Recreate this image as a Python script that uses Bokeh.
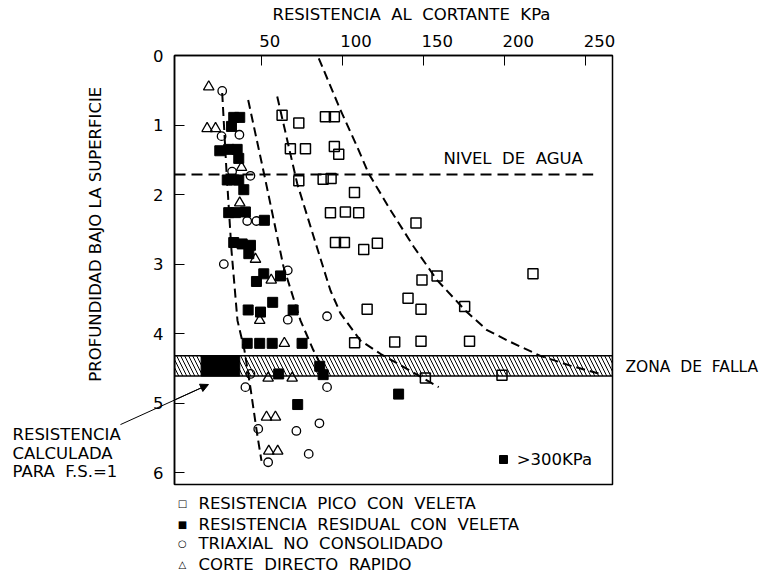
import math
from bokeh.plotting import figure
from bokeh.models import (Range1d, FixedTicker, Legend, LegendItem,
                          Arrow, NormalHead)
from bokeh.core.properties import value
from bokeh.embed import file_html
from bokeh.resources import INLINE

# ---------------- data ----------------
# RESISTENCIA PICO CON VELETA (open squares)
pico_x = [62.9, 73.2, 89.6, 95.1, 68.0, 77.3, 95.1, 97.8, 73.2, 88.2, 93.1,
          107.5, 92.7, 101.9, 110.1, 145.4, 95.8, 101.3, 113.2, 121.6, 149.1,
          158.4, 217.5, 115.3, 140.5, 148.5, 175.4, 107.6, 132.3, 148.5, 178.4,
          151.2, 198.4]
pico_y = [0.86, 0.97, 0.88, 0.88, 1.34, 1.34, 1.31, 1.42, 1.80, 1.78, 1.77,
          1.97, 2.26, 2.25, 2.26, 2.41, 2.69, 2.69, 2.79, 2.70, 3.23,
          3.17, 3.14, 3.65, 3.49, 3.65, 3.61, 4.13, 4.12, 4.11, 4.11,
          4.64, 4.60]

# RESISTENCIA RESIDUAL CON VELETA (filled squares)
res_x = [33.1, 36.8, 31.7, 24.5, 30.0, 35.2, 36.2, 29.1, 33.1, 36.2, 39.3,
         30.0, 34.2, 40.3, 52.0, 33.1, 38.3, 43.4, 42.4, 51.6, 61.9, 47.1,
         57.1, 42.0, 49.6, 69.7, 41.4, 49.1, 56.8, 75.2, 86.1, 88.2, 60.8,
         134.7, 72.5]
res_y = [0.89, 0.89, 1.02, 1.37, 1.35, 1.35, 1.48, 1.79, 1.79, 1.79, 1.93,
         2.26, 2.26, 2.25, 2.37, 2.69, 2.71, 2.73, 2.85, 3.14, 3.17, 3.25,
         3.55, 3.66, 3.69, 3.66, 4.14, 4.14, 4.14, 4.14, 4.47, 4.59, 4.58,
         4.87, 5.02]

# TRIAXIAL NO CONSOLIDADO (open circles)
triax_x = [26.0, 25.6, 36.6, 32.1, 43.4, 41.4, 47.1, 27.0, 66.4, 66.4, 90.6,
           43.4, 40.3, 90.6, 85.9, 71.7, 48.2, 79.3, 54.3]
triax_y = [0.51, 1.16, 1.14, 1.67, 1.73, 2.38, 2.38, 3.00, 3.09, 3.80, 3.75,
           4.58, 4.77, 4.77, 5.29, 5.40, 5.37, 5.73, 5.85]

# CORTE DIRECTO RAPIDO (open triangles)
corte_x = [17.7, 16.7, 21.9, 37.9, 36.8, 46.5, 56.2, 49.1, 64.3, 54.3, 69.1,
           53.3, 58.8, 54.7, 60.2]
corte_y = [0.45, 1.05, 1.05, 1.61, 2.12, 2.93, 3.23, 3.81, 4.14, 4.64, 4.64,
           5.20, 5.20, 5.69, 5.69]

# dashed envelope curves
curve_a_x = [26.0, 28.6, 31.7, 35.4, 39.7, 43.4, 47.5, 50.2]
curve_a_y = [0.54, 1.65, 2.80, 3.81, 4.24, 4.78, 5.44, 5.83]
curve_b_x = [42.0, 52.6, 63.7, 74.2, 82.2, 91.5]
curve_b_y = [0.64, 1.79, 3.03, 3.81, 4.24, 4.67]
curve_c_x = [59.9, 72.2, 82.4, 92.7, 98.9, 111.2, 123.5, 140.0, 159.4]
curve_c_y = [0.59, 1.84, 2.61, 3.38, 3.71, 4.10, 4.29, 4.51, 4.77]
curve_d_x = [85.5, 98.8, 109.1, 116.3, 129.6, 144.0, 158.4, 175.9, 189.2,
             203.6, 222.1, 240.5, 259.0]
curve_d_y = [0.04, 0.78, 1.31, 1.70, 2.22, 2.75, 3.23, 3.67, 3.95,
             4.12, 4.32, 4.46, 4.58]

# water level and failure zone
water_depth = 1.71
water_x_end = 254.6
zone_top = 4.32
zone_bottom = 4.61
fs1_left = 13.0
fs1_right = 36.8

x_ticks = [50, 100, 150, 200, 250]
x_tick_labels = ["50", "100", "150", "200", "250"]
y_ticks = [0, 1, 2, 3, 4, 5, 6]

SP = "\u00a0 "  # wide (double) word gap as in the drawing
legend_labels = [SP.join(["RESISTENCIA", "PICO", "CON", "VELETA"]),
                 SP.join(["RESISTENCIA", "RESIDUAL", "CON", "VELETA"]),
                 SP.join(["TRIAXIAL", "NO", "CONSOLIDADO"]),
                 SP.join(["CORTE", "DIRECTO", "RAPIDO"])]
legend_keys = ["\u25a1", "\u25a0", "\u25cb", "\u25b3"]

X_MIN, X_MAX = -3.4, 266.5
Y_MIN, Y_MAX = 0.0, 6.17

# ---------------- layout helpers (picture pixel -> data) ----------------
X0PX, XS = 179.55, 1.623
Y0PX, YS = 55.6, 69.4


def ix(px):
    return (px - X0PX) / XS


def iy(py):
    return (py - Y0PX) / YS


FONT = "DejaVu Sans"
FS = "16.5px"

p = figure(width=760, height=576,
           x_range=Range1d(X_MIN, X_MAX), y_range=Range1d(Y_MAX, Y_MIN),
           x_axis_location="above",
           output_backend="svg", toolbar_location=None,
           min_border_left=174, min_border_right=148,
           min_border_top=55, min_border_bottom=92)
p.background_fill_color = "white"
p.border_fill_color = "white"
p.outline_line_color = "black"
p.outline_line_width = 1.5
p.xgrid.grid_line_color = None
p.ygrid.grid_line_color = None

# top axis: ticks inward, labels drawn as left-aligned text
p.xaxis.ticker = FixedTicker(ticks=x_ticks)
p.xaxis.major_label_overrides = {t: "" for t in x_ticks}
p.xaxis.major_tick_in = 10
p.xaxis.major_tick_out = 0
p.xaxis.minor_tick_line_color = None
p.xaxis.axis_line_color = "black"
p.xaxis.axis_line_width = 1.5
p.xaxis.major_tick_line_color = "black"
p.xaxis.major_tick_line_width = 1

p.yaxis.ticker = FixedTicker(ticks=y_ticks)
p.yaxis.major_tick_in = 10
p.yaxis.major_tick_out = 0
p.yaxis.minor_tick_line_color = None
p.yaxis.axis_line_color = "black"
p.yaxis.axis_line_width = 1.5
p.yaxis.major_tick_line_color = "black"
p.yaxis.major_tick_line_width = 1
p.yaxis.major_label_standoff = 11
p.yaxis.major_label_text_font = FONT
p.yaxis.major_label_text_font_size = FS
p.yaxis.major_label_text_color = "black"

# failure zone band
p.quad(left=[X_MIN], right=[X_MAX], top=[zone_top], bottom=[zone_bottom],
       fill_color=None, hatch_pattern="left_diagonal_line", hatch_color="black",
       hatch_scale=8, hatch_weight=1, line_color="black", line_width=1.5)
p.quad(left=[fs1_left], right=[fs1_right], top=[zone_top], bottom=[zone_bottom],
       fill_color="black", line_color="black")

# water level
p.line([X_MIN, water_x_end], [water_depth, water_depth], line_color="black",
       line_width=2, line_dash="11 6")

# envelope curves
p.multi_line(xs=[curve_a_x, curve_b_x, curve_c_x, curve_d_x],
             ys=[curve_a_y, curve_b_y, curve_c_y, curve_d_y],
             line_color="black", line_width=2, line_dash="9 5")

# data points
r_pico = p.scatter(pico_x, pico_y, marker="square", size=10, fill_color=None,
                   line_color="black", line_width=1.5)
r_res = p.scatter(res_x, res_y, marker="square", size=10, fill_color="black",
                  line_color="black", line_width=1)
r_triax = p.scatter(triax_x, triax_y, marker="circle", size=8.5, fill_color=None,
                    line_color="black", line_width=1.3)
r_corte = p.scatter(corte_x, corte_y, marker="triangle", size=10.5,
                    fill_color=None, line_color="black", line_width=1.3)

# ---------------- texts (overlay level, so they may sit outside the frame) ----------------
def add_text(texts, xs, ys, align="left", baseline="middle", angle=0.0, size=FS):
    p.text(x=xs, y=ys, text=texts, text_font=value(FONT),
           text_font_size=value(size), text_color="black", text_align=align,
           text_baseline=baseline, angle=angle, level="overlay")


add_text(x_tick_labels, [t - 2 / XS for t in x_ticks], [iy(40.8)] * len(x_ticks))
add_text([SP.join(["RESISTENCIA", "AL", "CORTANTE", "KPa"])], [ix(272)], [iy(14.2)])
add_text([SP.join(["NIVEL", "DE", "AGUA"])], [ix(443)], [iy(158.3)])
add_text([SP.join(["ZONA", "DE", "FALLA"])], [ix(625)], [iy(366.3)], size="15.5px")
add_text(["PROFUNDIDAD BAJO LA SUPERFICIE"], [ix(95)], [iy(234)],
         align="center", angle=math.pi / 2)
add_text(["RESISTENCIA", "CALCULADA", "PARA" + SP + "F.S.=1"],
         [ix(12)] * 3, [iy(434), iy(452.5), iy(471)])

# arrow to the calculated strength
p.segment(x0=[ix(120)], y0=[iy(424)], x1=[ix(205)], y1=[iy(385.5)],
          line_color="black", line_width=1, level="overlay")
p.add_layout(Arrow(x_start=ix(120), y_start=iy(424), x_end=ix(208), y_end=iy(384),
                   line_color="black", line_width=1,
                   end=NormalHead(size=8, fill_color="black", line_color="black")))

# legend below the frame (keys + labels)
leg_rows_px = [502.5, 523.3, 542.5, 563.3]
add_text(legend_keys, [ix(182)] * 4, [iy(r) for r in leg_rows_px],
         align="center", size="10px")
add_text(legend_labels, [ix(198)] * 4, [iy(r) for r in leg_rows_px])

legend2 = Legend(items=[LegendItem(label=">300KPa", renderers=[r_res])],
                 location=(318.7, 14.7), border_line_color=None,
                 background_fill_alpha=0, padding=0, margin=0, spacing=0,
                 glyph_width=20, glyph_height=20, label_height=20,
                 label_standoff=4, label_text_font=FONT,
                 label_text_font_size=FS, label_text_color="black")
p.add_layout(legend2)

open("out.html", "w").write(file_html(p, INLINE))
